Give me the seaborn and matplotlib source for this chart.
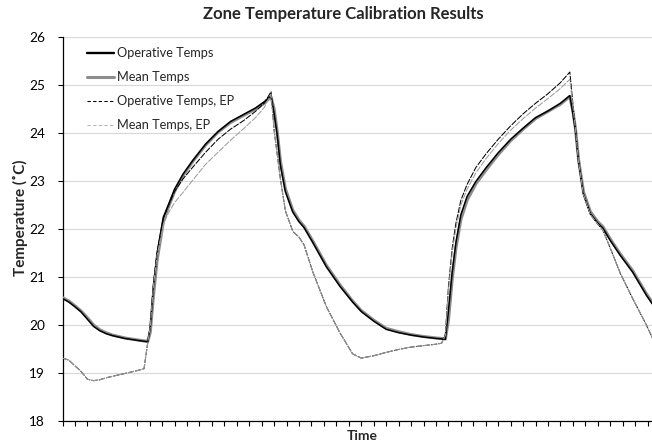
import matplotlib
matplotlib.use("Agg")
import matplotlib.pyplot as plt
import seaborn as sns
import pandas as pd
from matplotlib.lines import Line2D
from matplotlib.ticker import MultipleLocator

# Time of each reading (hours from start)
hours = [0, 0.5, 1, 1.5, 2, 2.5, 3, 3.5, 4, 5, 6, 6.55, 6.85, 7.05, 7.3, 7.6, 8.1, 8.5, 9,
         9.7, 10.5, 11.5, 12.5, 13.5, 14.5, 15.5, 16.2, 16.75, 17.0, 17.25, 17.5, 17.9, 18.5,
         19.0, 19.4, 20.1, 21.2, 22.3, 23.3, 24.0, 25.0, 26.0, 27.0, 28.0, 29.0, 30.0, 30.45,
         30.75, 31.0, 31.3, 31.6, 32.0, 32.5, 33.2, 34.0, 35.0, 36.0, 37.0, 38.0, 39.0, 40.0,
         40.75, 41.0, 41.2, 41.45, 41.85, 42.4, 43.0, 43.4, 44.0, 44.8, 45.8, 46.9, 47.4]

operative = [20.55, 20.48, 20.38, 20.27, 20.12, 19.97, 19.88, 19.82, 19.78, 19.72, 19.68, 19.66,
             19.65, 19.95, 20.80, 21.50, 22.25, 22.50, 22.83, 23.15, 23.44, 23.77, 24.03, 24.24,
             24.38, 24.52, 24.65, 24.78, 24.40, 23.95, 23.33, 22.78, 22.35, 22.15, 22.03, 21.72,
             21.21, 20.80, 20.48, 20.28, 20.08, 19.91, 19.84, 19.79, 19.75, 19.72, 19.71, 19.70,
             20.30, 21.10, 21.72, 22.30, 22.68, 22.99, 23.27, 23.59, 23.87, 24.10, 24.32, 24.46,
             24.62, 24.78, 24.40, 24.05, 23.40, 22.72, 22.32, 22.12, 22.02, 21.76, 21.45, 21.10,
             20.62, 20.43]

mean = [20.57, 20.50, 20.40, 20.29, 20.15, 20.00, 19.90, 19.84, 19.79, 19.73, 19.69, 19.67,
        19.66, 19.85, 20.60, 21.35, 22.15, 22.45, 22.78, 23.12, 23.42, 23.75, 24.02, 24.22,
        24.36, 24.50, 24.62, 24.75, 24.50, 24.02, 23.42, 22.84, 22.39, 22.18, 22.06, 21.75,
        21.24, 20.83, 20.50, 20.30, 20.10, 19.93, 19.86, 19.80, 19.76, 19.73, 19.72, 19.71,
        20.10, 20.95, 21.60, 22.20, 22.60, 22.94, 23.22, 23.55, 23.84, 24.08, 24.30, 24.45,
        24.60, 24.76, 24.45, 24.10, 23.45, 22.77, 22.36, 22.15, 22.05, 21.79, 21.48, 21.13,
        20.65, 20.46]

operative_ep = [19.31, 19.27, 19.15, 19.03, 18.87, 18.84, 18.86, 18.90, 18.93, 18.99, 19.05,
                19.09, 19.64, 19.98, 20.85, 21.52, 22.22, 22.48, 22.78, 23.05, 23.30, 23.60,
                23.87, 24.08, 24.25, 24.45, 24.62, 24.86, 24.05, 23.55, 23.05, 22.38, 21.95,
                21.83, 21.67, 21.11, 20.38, 19.83, 19.40, 19.31, 19.36, 19.43, 19.49, 19.54,
                19.57, 19.60, 19.62, 19.80, 20.80, 21.60, 22.12, 22.60, 22.93, 23.28, 23.56,
                23.87, 24.15, 24.40, 24.62, 24.82, 25.05, 25.27, 24.60, 24.10, 23.40, 22.72,
                22.30, 22.10, 21.98, 21.60, 21.08, 20.55, 20.00, 19.72]

mean_ep = [19.31, 19.27, 19.15, 19.03, 18.87, 18.84, 18.86, 18.90, 18.93, 18.99, 19.05,
           19.09, 19.64, 19.96, 20.80, 21.45, 22.10, 22.33, 22.55, 22.77, 23.03, 23.35, 23.60,
           23.85, 24.08, 24.32, 24.53, 24.80, 24.05, 23.55, 23.05, 22.38, 21.95, 21.83, 21.67,
           21.11, 20.38, 19.83, 19.40, 19.31, 19.36, 19.43, 19.49, 19.54, 19.57, 19.60, 19.62,
           19.78, 20.70, 21.50, 22.02, 22.50, 22.83, 23.17, 23.46, 23.78, 24.06, 24.30, 24.52,
           24.72, 24.93, 25.12, 24.55, 24.08, 23.40, 22.72, 22.30, 22.10, 21.98, 21.60, 21.08,
           20.55, 20.00, 19.72]

series_labels = ["Operative Temps", "Mean Temps", "Operative Temps, EP", "Mean Temps, EP"]
y_ticks = [18, 19, 20, 21, 22, 23, 24, 25, 26]

df = pd.DataFrame({"hours": hours, "operative": operative, "mean": mean,
                   "operative_ep": operative_ep, "mean_ep": mean_ep})

sns.set_theme(style="white")
plt.rcParams["font.family"] = ["Lato", "DejaVu Sans"]

W, H = 652, 448
fig = plt.figure(figsize=(W / 100, H / 100), dpi=100)
ax = fig.add_axes([62.5 / W, 27 / H, (W - 62.5) / W, 384 / H])

GRAY = "#8c8c8c"
LIGHT = "#9e9e9e"
EP_DASH = (0, (6, 1.2))

sns.lineplot(data=df, x="hours", y="mean", ax=ax, color=GRAY, lw=2.2,
             estimator=None, zorder=3)
sns.lineplot(data=df, x="hours", y="operative", ax=ax, color="#000000", lw=1.1,
             estimator=None, zorder=4)
sns.lineplot(data=df, x="hours", y="operative_ep", ax=ax, color="#000000", lw=0.75,
             linestyle=EP_DASH, estimator=None, zorder=5)
sns.lineplot(data=df, x="hours", y="mean_ep", ax=ax, color=LIGHT, lw=0.75,
             linestyle=EP_DASH, estimator=None, zorder=5)

ax.set_xlim(0, 47.35)
ax.set_ylim(18, 26)
ax.set_yticks(y_ticks)
ax.xaxis.set_major_locator(MultipleLocator(1))
ax.grid(axis="y", color="#d9d9d9", lw=0.9)
ax.grid(axis="x", visible=False)
ax.set_axisbelow(True)
for side in ("top", "right"):
    ax.spines[side].set_visible(False)
for side in ("left", "bottom"):
    ax.spines[side].set_color("#000000")
    ax.spines[side].set_linewidth(0.9)
ax.tick_params(axis="x", bottom=True, direction="out", length=3.5, width=0.8,
               color="#000000", labelbottom=False)
ax.tick_params(axis="y", left=True, direction="out", length=3.5, width=0.8,
               color="#000000", labelsize=9.8, labelcolor="#000000", pad=9)
ax.set_xlabel("")
ax.set_ylabel("")

# Legend in the upper-left corner, in series order
leg_handles = [
    Line2D([], [], color="#000000", lw=1.7),
    Line2D([], [], color=GRAY, lw=2.2),
    Line2D([], [], color="#000000", lw=0.75, ls=(0, (3.2, 2.2))),
    Line2D([], [], color="#b4b4b4", lw=0.75, ls=(0, (3.2, 2.2))),
]
ax.legend(leg_handles, series_labels, loc="upper left",
          bbox_to_anchor=(86.7 / W, 1 - 47 / H), bbox_transform=fig.transFigure,
          frameon=False, fontsize=9.2, handlelength=2.15, handletextpad=0.2,
          labelspacing=0.95, borderpad=0, borderaxespad=0)

fig.text(343 / W, 1 - 14 / H, "Zone Temperature Calibration Results",
         ha="center", va="center", fontsize=12, fontweight="bold")
fig.text(362 / W, 1 - 436 / H, "Time", ha="center", va="center",
         fontsize=10, fontweight="bold")
fig.text(20 / W, 1 - 218 / H, "Temperature (\u02daC)", ha="center", va="center",
         rotation=90, fontsize=11, fontweight="bold")

fig.savefig("out.png", dpi=100)
